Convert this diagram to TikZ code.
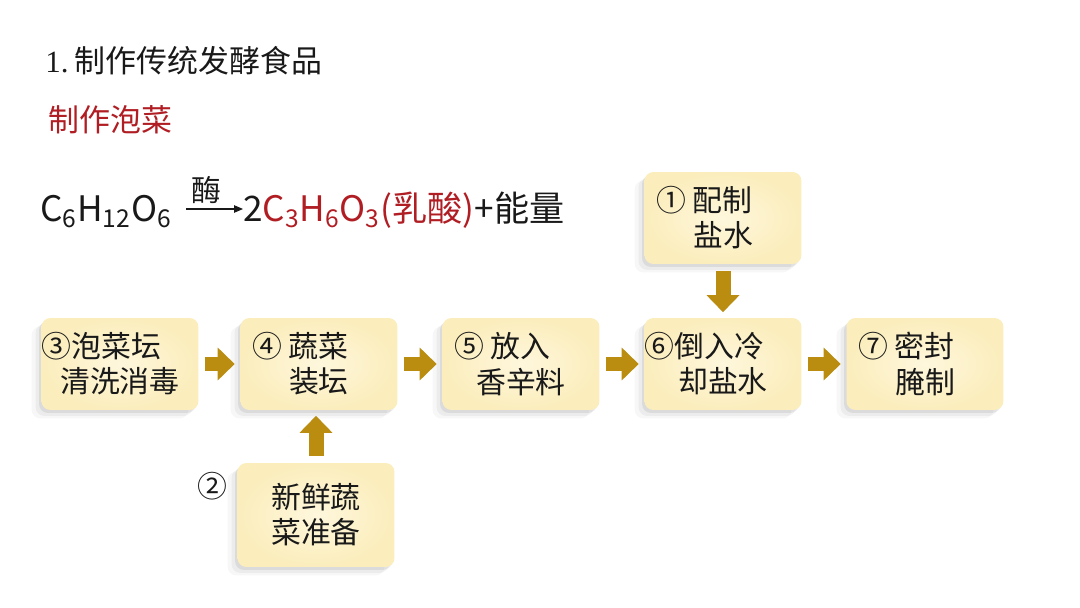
\documentclass[tikz,border=0pt]{standalone}
\usepackage{fontspec}
\setmainfont{Noto Sans CJK SC}
\newfontfamily\numserif{Liberation Serif}
\usetikzlibrary{arrows.meta,shadows,positioning}

\definecolor{boxin}{RGB}{254,247,220}
\definecolor{boxout}{RGB}{251,237,188}
\definecolor{flowgold}{RGB}{186,141,16}
\definecolor{acidred}{RGB}{176,30,36}
\definecolor{ink}{RGB}{25,25,25}

% trailing gap after the numbered first line
\newcommand{\tailgap}{\hspace*{1.25em}}

\tikzset{
  stepbox/.style={rounded corners=0.18cm, inner color=boxin, outer color=boxout,
    minimum width=3.14cm, minimum height=1.84cm, inner xsep=0pt,
    align=center, text=ink, font=\fontsize{17}{20}\selectfont,
    drop shadow={shadow xshift=-0.05cm, shadow yshift=-0.06cm, opacity=0.12, fill=black!60},
    drop shadow={shadow xshift=-0.12cm, shadow yshift=-0.12cm, opacity=0.08, fill=black!60},
    drop shadow={shadow xshift=-0.2cm, shadow yshift=-0.17cm, opacity=0.05, fill=black!60}},
  flow/.style={draw=flowgold, line width=0.3cm,
    -{Triangle[length=0.34cm,width=0.66cm,line width=0pt]},
    shorten <=0.13cm, shorten >=0.11cm},
  plain/.style={inner sep=0pt, text=ink},
}

\begin{document}
\begin{tikzpicture}[x=0.02cm, y=-0.02cm]
\useasboundingbox (0,0) rectangle (1080,608);

% ── Headings ─────────────────────────────────────────────────
\node[plain, anchor=west, font=\fontsize{17.6}{21}\selectfont] (title) at (45,61)
  {{\numserif 1.}\hspace{0.2em}制作传统发酵食品};
\node[plain, anchor=west, text=acidred, font=\fontsize{17.6}{21}\selectfont] (sub) at (48,120)
  {制作泡菜};

% ── Reaction ─────────────────────────────────────────────────
\node[plain, anchor=base west, font=\fontsize{20}{24}\selectfont] (glc) at (40,222)
  {C\textsubscript{6}H\textsubscript{12}O\textsubscript{6}};
\node[plain, anchor=base west, font=\fontsize{20}{24}\selectfont] (prod) at (243,222)
  {2{\color{acidred}C\textsubscript{3}H\textsubscript{6}O\textsubscript{3}(乳酸)}+能量};
\draw[ink, line width=0.6pt, -{Triangle[length=0.18cm,width=0.15cm]}]
  ([xshift=0.28cm,yshift=0.26cm]glc.base east) -- ([yshift=0.26cm]prod.base west)
  node[pos=0.35, above=3pt, inner sep=0pt, font=\fontsize{17}{20}\selectfont] (enz) {酶};

% ── Process boxes ────────────────────────────────────────────
\def\rowy{364}
\foreach \nm/\px/\txt in {
    b3/120/{③泡菜坛\tailgap\\清洗消毒},
    b4/319/{④ 蔬菜\tailgap\\装坛},
    b5/521/{⑤ 放入\tailgap\\香辛料},
    b6/723/{⑥倒入冷\tailgap\\却盐水},
    b7/925/{⑦ 密封\tailgap\\腌制}} {
  \node[stepbox] (\nm) at (\px,\rowy) {\txt};
}
\node[stepbox] (b1) at (723,218) {① 配制\tailgap\\盐水};
\node[stepbox, minimum height=2.08cm] (b2) at (316,515) {新鲜蔬\\菜准备};
\node[plain, font=\fontsize{17}{20}\selectfont] (n2) at (212,486) {②};

% ── Arrows ───────────────────────────────────────────────────
\foreach \a/\b in {b3/b4, b4/b5, b5/b6, b6/b7}
  \draw[flow] (\a) -- (\b);
\draw[flow] (b1) -- (b6);
\draw[flow] (b2.north) -- (b2.north |- b4.south);

\end{tikzpicture}
\end{document}
